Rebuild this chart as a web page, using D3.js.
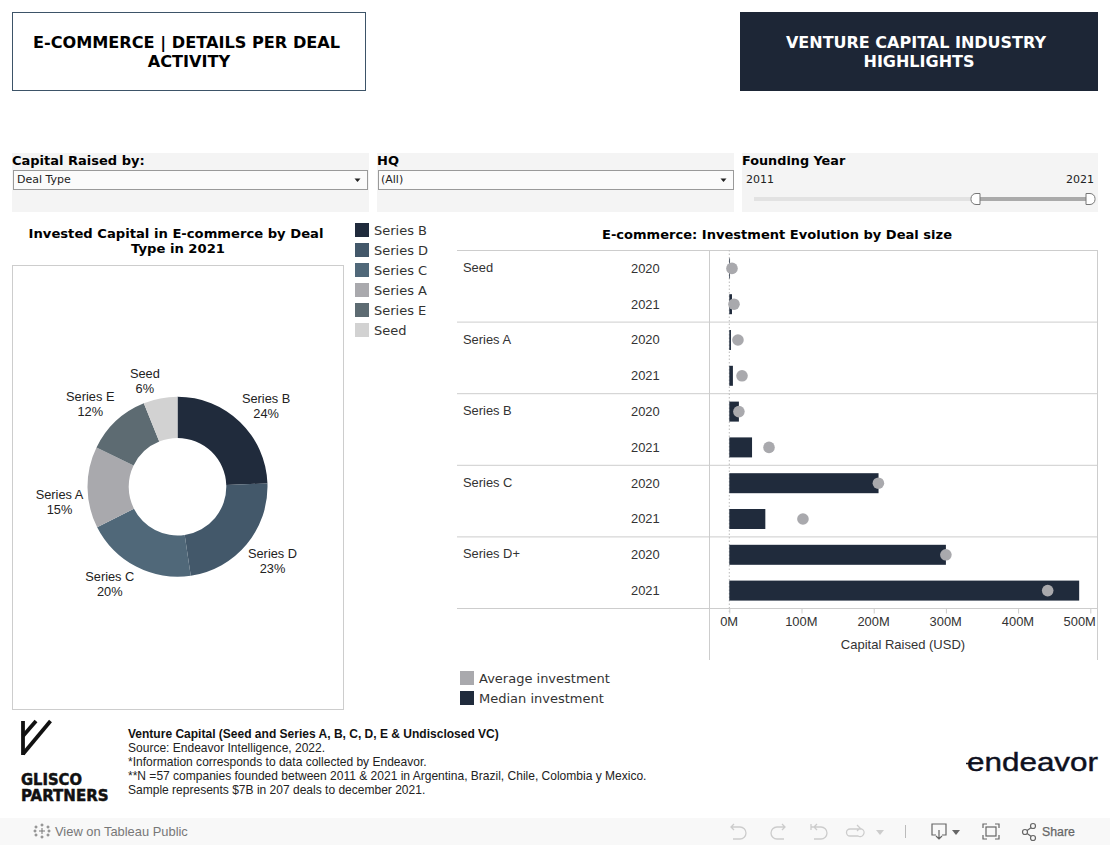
<!DOCTYPE html>
<html><head><meta charset="utf-8">
<script src="https://cdn.jsdelivr.net/npm/d3@7"></script>
<style>html,body{margin:0;padding:0;background:#fff;overflow:hidden}svg{display:block}
.v{font-family:"DejaVu Sans"}.a{font-family:"Liberation Sans"}</style>
</head><body><svg id="c" width="1110" height="845"></svg>
<script>
const pieCategories=["Series B","Series D","Series C","Series A","Series E","Seed"];
const pieValues=[24.4,23.2,19.9,14.6,11.7,6.1];
const pieColors=["#202b3c","#43586a","#506879","#a9a9ad","#5d6b72","#d2d2d2"];
const dealGroups=["Seed","Series A","Series B","Series C","Series D+"];
const years=["2020","2021"];
const medianValues=[1,3.7, 2.3,5, 13.3,31.5, 206.7,49.9, 300,484.6];
const averageValues=[3.7,6.5, 12,17.6, 13.3,55, 206.5,102, 300,441];
const axisTicks=[0,100,200,300,400,500];
const footnotes=["Source: Endeavor Intelligence, 2022.","*Information corresponds to data collected by Endeavor.","**N =57 companies founded between 2011 & 2021 in Argentina, Brazil, Chile, Colombia y Mexico.","Sample represents $7B in 207 deals to december 2021."];
const DARK="#202b3c",GREY="#a9a9ad",RULE="#cdcdcd",INK="#333";
const svg=d3.select("#c");
function text(s,x,y,size,cls,o={}){return svg.append("text").attr("class",cls).attr("x",x).attr("y",y).attr("font-size",size).attr("font-weight",o.w||"normal").attr("text-anchor",o.a||"start").attr("fill",o.f||"#000").text(s);}
function rect(x,y,w,h,f,s){return svg.append("rect").attr("x",x).attr("y",y).attr("width",w).attr("height",h).attr("fill",f).attr("stroke",s||"none");}
// header boxes
rect(12.5,12.5,353,78,"#fff","#3d5468");
text("E-COMMERCE | DETAILS PER DEAL",186.5,48,16.15,"v",{w:"bold",a:"middle"});
text("ACTIVITY",189,67,16.15,"v",{w:"bold",a:"middle"});
rect(740,12,358,79,"#1d2636");
text("VENTURE CAPITAL INDUSTRY",916,48,16,"v",{w:"bold",a:"middle",f:"#fff"});
text("HIGHLIGHTS",919,67,16,"v",{w:"bold",a:"middle",f:"#fff"});
// filters
[[12,357],[377,357],[742,356]].forEach(b=>rect(b[0],153,b[1],59,"#f4f4f4"));
text("Capital Raised by:",12,165,13,"v",{w:"bold"});
text("HQ",377,165,13,"v",{w:"bold"});
text("Founding Year",742,165,12.8,"v",{w:"bold"});
[[13.5,354],[378.5,355]].forEach(b=>{
  rect(b[0],170.5,b[1],19,"#fbfbfb","#9a9a9a");
  const r=b[0]+b[1]-10;
  svg.append("path").attr("d",`M${r-3},178.5h6l-3,3.5z`).attr("fill","#222");
});
text("Deal Type",17,183,11,"v",{f:"#222"});
text("(All)",381,183,11,"v",{f:"#222"});
text("2011",746,183,11,"v",{f:"#222"});
text("2021",1094,183,11,"v",{a:"end",f:"#222"});
rect(754,197,226,4,"#e2e2e2");rect(980,197,108,4,"#aaaaaa");
svg.append("path").attr("d","M980,193.5h-4a5,5 0 0 0 -5,5v1a5,5 0 0 0 5,5h4z").attr("fill","#fff").attr("stroke","#777");
svg.append("path").attr("d","M1086,193.5h4a5,5 0 0 1 5,5v1a5,5 0 0 1 -5,5h-4z").attr("fill","#fff").attr("stroke","#777");
// pie
text("Invested Capital in E-commerce by Deal",176,238,13.15,"v",{w:"bold",a:"middle"});
text("Type in 2021",178,253,13.15,"v",{w:"bold",a:"middle"});
rect(12.5,265.5,331,444,"#fff",RULE);
const cx=177.5,cy=486.7;
const color=d3.scaleOrdinal(pieCategories,pieColors);
const pie=d3.pie().sort(null).value(d=>d.v)(pieCategories.map((c,i)=>({c,v:pieValues[i]})));
const arc=d3.arc().innerRadius(48.8).outerRadius(90);
const gp=svg.append("g").attr("transform",`translate(${cx},${cy})`);
gp.selectAll("path").data(pie).join("path").attr("d",arc).attr("fill",d=>color(d.data.c));
const labelArc=d3.arc().innerRadius(119).outerRadius(119);
const nudges={"Series B":[6,5],"Series D":[3.5,-2],"Series C":[-13,-8],"Series A":[1,14],"Series E":[-6,4.5],"Seed":[-10,11]};
pie.forEach(d=>{
  const [x,y]=labelArc.centroid(d),n=nudges[d.data.c];
  const t=gp.append("text").attr("class","a").attr("font-size",12.8).attr("fill","#222").attr("text-anchor","middle");
  t.append("tspan").attr("x",x+n[0]).attr("y",y+n[1]-3).text(d.data.c);
  t.append("tspan").attr("x",x+n[0]).attr("y",y+n[1]+12).text(Math.round(d.data.v)+"%");
});
// pie legend
const ly=d3.scalePoint(pieCategories,[230,330]);
pieCategories.forEach(c=>{
  rect(355,ly(c)-7,14,14,color(c));
  text(c,374,ly(c)+4.5,13,"v",{f:"#333"});
});
// bar chart
text("E-commerce: Investment Evolution by Deal size",777,239,13.05,"v",{w:"bold",a:"middle"});
const rows=dealGroups.flatMap(g=>years.map(y=>({g,y})));
rows.forEach((r,i)=>{r.median=medianValues[i];r.average=averageValues[i];r.key=r.g+r.y;});
const y=d3.scaleBand(rows.map(r=>r.key),[250.5,608.5]);
const x=d3.scaleLinear([0,500],[729.3,1090.3]);
const G=svg.append("g");
G.append("line").attr("x1",709.5).attr("x2",709.5).attr("y1",250).attr("y2",660).attr("stroke",RULE);
G.append("line").attr("x1",1097.5).attr("x2",1097.5).attr("y1",250).attr("y2",660).attr("stroke",RULE);
dealGroups.forEach((g,i)=>{
  const yy=y(g+"2020");
  G.append("line").attr("x1",457).attr("x2",1098).attr("y1",yy).attr("y2",yy).attr("stroke",RULE);
  text(g,463,yy+21.5,12.9,"a",{f:INK});
});
G.append("line").attr("x1",457).attr("x2",1098).attr("y1",608.5).attr("y2",608.5).attr("stroke",RULE);
G.append("line").attr("x1",x(0)).attr("x2",x(0)).attr("y1",250).attr("y2",613).attr("stroke","#bbb").attr("stroke-dasharray","1.5 2");
rows.forEach(r=>text(r.y,631,y(r.key)+y.bandwidth()/2+4.3,12.9,"a",{f:INK}));
const hBar=20;
svg.selectAll("rect.bar").data(rows).join("rect").attr("class","bar")
 .attr("x",x(0)).attr("width",d=>x(d.median)-x(0)).attr("y",d=>y(d.key)+y.bandwidth()/2-hBar/2).attr("height",hBar).attr("fill",DARK);
svg.selectAll("circle.dot").data(rows).join("circle").attr("class","dot")
 .attr("cx",d=>x(d.average)).attr("cy",d=>y(d.key)+y.bandwidth()/2).attr("r",5.8).attr("fill",GREY);
const ax=svg.append("g").attr("transform","translate(0,608.5)").call(d3.axisBottom(x).tickValues(axisTicks).tickFormat(d=>d+"M").tickSize(5).tickPadding(3));
ax.select(".domain").remove();
ax.selectAll("line").attr("stroke",RULE);
ax.selectAll("text").attr("class","a").attr("font-size",12.9).attr("font-family","Liberation Sans").attr("fill",INK).attr("x",-0.7);
ax.selectAll("g.tick").filter(d=>d===500).select("text").attr("text-anchor","end").attr("x",5);
text("Capital Raised (USD)",903,649,13,"a",{a:"middle",f:INK});
// bottom legend
[["Average investment",GREY,678],["Median investment",DARK,698]].forEach(l=>{
  rect(460,l[2]-7,14,14,l[1]);
  text(l[0],479,l[2]+4.5,13,"v",{f:"#333"});
});
// logos
const logo=svg.append("g").attr("fill","none").attr("stroke","#111").attr("stroke-width",3.8);
logo.append("path").attr("d","M23,721V755");
logo.append("path").attr("d","M23,754L50.5,721");
logo.append("path").attr("d","M23,736L36,721");
text("GLISCO",21,785,15.5,"v",{w:"bold",f:"#111"}).attr("textLength",61).attr("lengthAdjust","spacingAndGlyphs").attr("stroke","#111").attr("stroke-width",0.5);
text("PARTNERS",21,801,15.5,"v",{w:"bold",f:"#111"}).attr("textLength",87.5).attr("lengthAdjust","spacingAndGlyphs").attr("stroke","#111").attr("stroke-width",0.5);
text("endeavor",967,771,25,"a",{f:"#0e1020"}).attr("textLength",131).attr("lengthAdjust","spacingAndGlyphs").attr("stroke","#0e1020").attr("stroke-width",0.4);
svg.append("line").attr("x1",966).attr("x2",978).attr("y1",763.5).attr("y2",763.5).attr("stroke","#0e1020").attr("stroke-width",1.5);
// footnotes
text("Venture Capital (Seed and Series A, B, C, D, E & Undisclosed VC)",128,738,12.02,"a",{w:"bold",f:"#111"});
footnotes.forEach((f,i)=>text(f,128,752+i*14,12.02,"a",{f:"#222"}));
// toolbar
rect(0,818,1110,27,"#f8f8f8");
const tg=svg.append("g").attr("fill","none").attr("stroke","#777").attr("stroke-width",1);
[[42,831,0],[36,827,1],[48,827,1],[36,835,1],[48,835,1],[42,825,1],[42,837,1],[35,831,1],[49,831,1]].forEach(p=>{
  const s=p[2]?1.5:3;
  tg.append("path").attr("d",`M${p[0]-s},${p[1]}h${2*s}M${p[0]},${p[1]-s}v${2*s}`);
});
text("View on Tableau Public",55,836,12.9,"a",{f:"#777"});
const ic=svg.append("g").attr("fill","none").attr("stroke","#ccc").attr("stroke-width",1.3);
ic.append("path").attr("d","M731,827h9a6,6 0 0 1 0,12h-7M734,824l-3,3l3,3");
ic.append("path").attr("d","M785,827h-8a6,6 0 0 0 0,12h7M782,824l3,3l-3,3");
ic.append("path").attr("d","M811,824v6M811,827h10a6,6 0 0 1 0,12h-7M817,824l-3,3l3,3");
ic.append("path").attr("d","M862,829h-12a3,3 0 0 0 0,7h8a3,3 0 0 0 4,-7M857,825l3,3l-3,3");
svg.append("path").attr("d","M876,830h8l-4,5z").attr("fill","#ccc");
svg.append("line").attr("x1",905.5).attr("x2",905.5).attr("y1",825).attr("y2",838).attr("stroke","#bbb");
const ic2=svg.append("g").attr("fill","none").attr("stroke","#666").attr("stroke-width",1.2);
ic2.append("path").attr("d","M936,835h-4v-11h14v11h-4M939,830v9M936,836l3,3l3,-3");
svg.append("path").attr("d","M952,830h8l-4,5z").attr("fill","#666");
ic2.append("path").attr("d","M983,828v-4h4M995,824h4v4M999,835v4h-4M987,839h-4v-4");
ic2.append("rect").attr("x",986).attr("y",827).attr("width",10).attr("height",9);
ic2.append("path").attr("d","M1025,832L1032,827M1025,832L1032,837");
[[1025,832],[1033,826],[1033,838]].forEach(p=>ic2.append("circle").attr("cx",p[0]).attr("cy",p[1]).attr("r",2.5).attr("fill","#f8f8f8"));
text("Share",1042,836,12.3,"a",{f:"#666"}).attr("stroke","#666").attr("stroke-width",0.25);
</script></body></html>
